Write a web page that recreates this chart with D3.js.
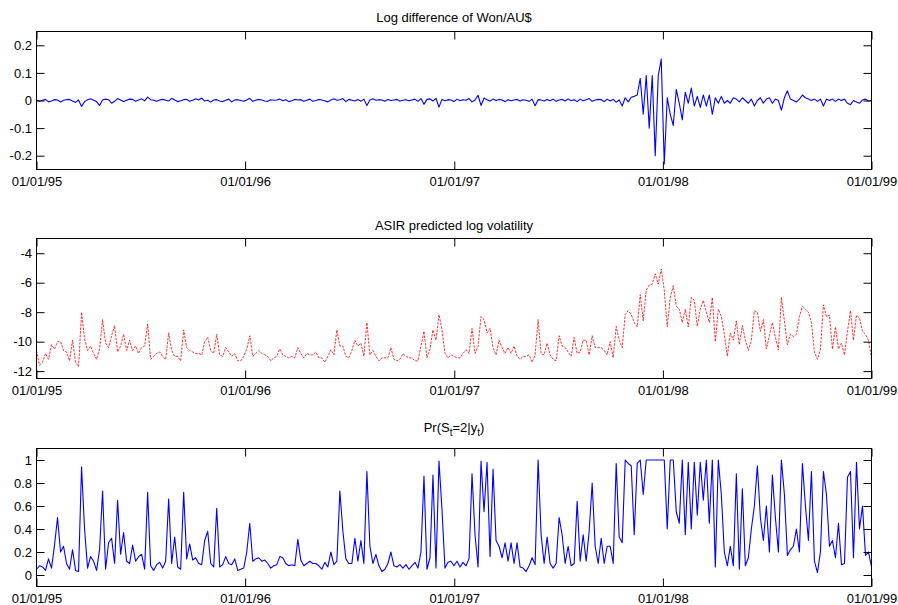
<!DOCTYPE html>
<html>
<head>
<meta charset="utf-8">
<script src="https://cdn.jsdelivr.net/npm/d3@7"></script>
<style>
    body { margin: 0; background: #fff; }
    svg { display: block; font-family: "Liberation Sans", Arial, Helvetica, sans-serif; }
</style>
</head>
<body>
<div id="chart-area"></div>
<script>
// Data: values, evenly spaced from 01/01/95 to 01/01/99

// Log difference of Won/AU$
let diffData = [
    0.002, -0.003, 0.001, 0.004, -0.005, -0.002, 0.003, 0.002, -0.006, 0.001,
    0.003, 0.004, -0.002, -0.007, 0.002, -0.022, -0.004, 0.003, 0.006, 0.001,
    -0.004, -0.018, 0.002, 0.005, 0.003, -0.01, -0.003, 0.007, 0.002, -0.004,
    0.001, 0.005, 0.004, -0.003, 0.002, 0.006, -0.001, 0.012, 0.003, 0.001,
    -0.003, 0.002, 0.004, 0.001, -0.002, 0.008, 0.002, -0.004, -0.001, 0.003,
    0.004, -0.003, 0.001, 0.006, 0.002, 0.009, -0.002, 0.001, -0.006, 0.002,
    0.003, -0.002, -0.004, 0.001, 0.005, -0.005, 0.002, 0.003, 0.0, -0.003,
    0.002, 0.008, -0.003, 0.001, 0.004, 0.002, -0.002, -0.003, 0.003, 0.001,
    0.002, 0.005, -0.001, 0.003, -0.004, -0.001, 0.004, 0.002, 0.003, -0.003,
    0.001, 0.005, -0.003, 0.0, 0.004, 0.002, -0.001, -0.005, 0.002, 0.006,
    0.001, 0.003, 0.007, -0.004, 0.004, 0.001, -0.002, 0.004, -0.003, 0.005,
    -0.018, 0.002, 0.006, 0.001, 0.003, 0.002, -0.003, 0.004, 0.0, 0.002,
    0.004, -0.002, 0.001, 0.003, -0.001, 0.002, 0.005, -0.003, 0.007, -0.014,
    0.004, 0.006, -0.002, 0.008, -0.024, 0.004, -0.001, 0.003, 0.002, -0.004,
    0.005, -0.001, 0.003, 0.001, 0.007, -0.005, 0.002, 0.019, -0.018, 0.009,
    0.003, -0.002, 0.005, 0.0, 0.004, 0.002, -0.004, 0.003, -0.001, 0.002,
    0.004, -0.002, 0.003, 0.001, -0.003, 0.005, -0.019, 0.003, 0.002, -0.002,
    0.004, -0.001, 0.005, -0.003, 0.002, 0.004, -0.002, 0.006, -0.001, 0.003,
    -0.004, 0.005, -0.001, 0.003, 0.007, -0.003, 0.002, 0.004,
    0.003, -0.004, 0.005, -0.002, 0.004, -0.006, 0.002, -0.02, 0.01, -0.005,
    0.012, 0.015, 0.02, 0.08, -0.05, 0.09, -0.1, 0.09, -0.2, 0.09,
    0.15, -0.23, 0.01, -0.05, -0.09, 0.04, -0.01, -0.07, 0.03, -0.01,
    0.045, -0.02, 0.015, -0.025, 0.02, -0.02, 0.02, -0.05, 0.01, -0.01,
    0.015, -0.01, 0.0, -0.01, 0.01, 0.005, -0.005, 0.01, 0.0, -0.01,
    0.005, -0.02, 0.0, 0.01, -0.01, 0.005, 0.01, -0.01, 0.005, 0.0,
    -0.035, 0.01, 0.035, 0.005, 0.0, -0.005, 0.005, 0.02, 0.01, 0.005,
    0.0, 0.005, -0.003, 0.005, -0.02, 0.005, 0.0, 0.005, -0.003, 0.005,
    0.0, 0.005, -0.01, -0.015, 0.0, -0.005, -0.01, 0.002, 0.005, -0.002, 0.0
];

// ASIR predicted log volatility
let volData = [
    -10.6, -11.6, -11.4, -10.8, -11.2, -10.2, -10.5, -10.0, -10.0, -10.6,
    -10.7, -11.3, -9.9, -11.4, -11.7, -8.0, -9.8, -10.6, -10.3, -10.8,
    -11.2, -10.5, -8.5, -10.1, -10.4, -9.6, -8.9, -10.7, -10.3, -9.5,
    -10.6, -9.9, -10.6, -10.3, -10.8, -10.4, -10.3, -8.8, -11.2, -11.0,
    -10.8, -10.7, -11.0, -11.2, -9.4, -10.6, -11.0, -11.0, -11.3, -9.2,
    -10.4, -10.6, -10.7, -10.8, -10.8, -10.9, -10.0, -9.7, -10.6, -10.8,
    -9.5, -10.9, -11.0, -10.4, -10.7, -11.0, -10.8, -11.3, -11.3, -11.0,
    -10.5, -9.6, -11.0, -10.8, -10.6, -10.8, -10.9, -11.0, -11.3, -11.1,
    -11.0, -10.5, -10.9, -11.0, -11.1, -11.0, -11.1, -10.4, -10.8,
    -11.1, -10.8, -10.9, -10.9, -10.7, -11.1, -11.1, -11.4, -11.0, -10.55, -10.9,
    -9.2, -10.3, -10.3, -11.0, -11.1, -10.6, -9.9, -10.3, -10.1, -11.0,
    -8.7, -10.9, -10.6, -11.0, -11.3, -11.1, -11.1, -11.1, -10.4, -11.2,
    -11.3, -11.2, -10.8, -11.0, -11.1, -11.1, -11.3, -11.3, -10.3, -9.3,
    -11.1, -10.5, -9.2, -9.9, -8.16, -9.2, -10.8, -11.1, -10.9, -11.0,
    -11.1, -11.1, -10.8, -10.55, -10.8, -9.1, -10.8, -10.3, -8.3, -8.5,
    -9.4, -9.1, -10.4, -10.9, -9.9, -10.4, -10.8, -10.4, -10.8, -10.3,
    -11.0, -11.2, -11.0, -11.0, -10.9, -11.4, -10.9, -8.5, -10.8, -10.9,
    -10.1, -10.9, -11.2, -11.3, -9.6, -10.3, -10.4, -10.7, -11.0, -9.7,
    -10.8, -10.7, -9.9, -9.9, -10.9, -9.6, -10.4, -10.4, -10.4, -10.6, -10.9,
    -10.0, -11.1, -8.96, -9.9, -10.4, -8.16, -7.9, -8.16, -8.7,
    -9.0, -6.8, -8.6, -6.5, -6.15, -6.1, -5.4, -6.1, -5.07, -6.5,
    -9.0, -7.0, -6.2, -7.6, -7.8, -8.7, -7.8, -9.0, -7.0, -7.2,
    -8.96, -7.8, -7.2, -8.0, -8.7, -7.0, -10.0, -7.8, -8.27, -9.5,
    -11.0, -9.4, -9.9, -8.6, -10.2, -8.9, -9.87, -10.6, -9.9, -7.9,
    -8.0, -9.3, -8.5, -10.5, -9.6, -8.7, -9.7, -10.56, -7.0, -8.6,
    -10.2, -9.5, -9.65, -9.5, -8.3, -7.6, -7.8, -8.0, -8.7, -10.7,
    -11.2, -10.5, -7.5, -8.3, -8.2, -10.5, -9.0, -10.5, -10.1, -10.9,
    -9.3, -7.9, -9.9, -8.2, -8.4, -9.3, -9.5, -9.9, -11.1
];

// Pr(S_t = 2 | y_t)
let probData = [
    0.05, 0.08, 0.07, 0.04, 0.14, 0.06, 0.26, 0.5, 0.2, 0.25,
    0.1, 0.05, 0.22, 0.04, 0.03, 0.94, 0.4, 0.06, 0.16, 0.12,
    0.04, 0.22, 0.73, 0.05, 0.28, 0.32, 0.1, 0.65, 0.18, 0.37,
    0.12, 0.1, 0.26, 0.12, 0.16, 0.18, 0.05, 0.72, 0.08, 0.04,
    0.09, 0.11, 0.06, 0.12, 0.66, 0.1, 0.33, 0.07, 0.05, 0.72,
    0.14, 0.27, 0.13, 0.15, 0.1, 0.09, 0.3, 0.38, 0.1, 0.07,
    0.58, 0.07, 0.09, 0.16, 0.1, 0.09, 0.14, 0.04, 0.05, 0.06,
    0.2, 0.45, 0.12, 0.14, 0.15, 0.12, 0.13, 0.1, 0.06, 0.08,
    0.09, 0.16, 0.15, 0.1, 0.08, 0.09, 0.08, 0.31, 0.13,
    0.08, 0.1, 0.12, 0.1, 0.1, 0.08, 0.05, 0.11, 0.07, 0.2, 0.09,
    0.12, 0.73, 0.38, 0.14, 0.1, 0.1, 0.32, 0.12, 0.3, 0.1,
    0.9, 0.25, 0.1, 0.18, 0.08, 0.03, 0.05, 0.1, 0.2, 0.08,
    0.07, 0.09, 0.06, 0.09, 0.05, 0.08, 0.11, 0.06, 0.2, 0.86,
    0.05, 0.15, 0.87, 0.06, 0.99, 0.57, 0.06, 0.11, 0.12, 0.08,
    0.12, 0.07, 0.11, 0.08, 0.14, 0.88, 0.35, 0.07, 0.99, 0.55,
    0.98, 0.16, 0.92, 0.3, 0.25, 0.15, 0.28, 0.12, 0.28, 0.1,
    0.28, 0.07, 0.06, 0.03, 0.08, 0.15, 0.09, 1.0, 0.35, 0.1,
    0.33, 0.1, 0.06, 0.1, 0.5, 0.35, 0.1, 0.25, 0.08, 0.1,
    0.64, 0.12, 0.35, 0.12, 0.38, 0.8, 0.25, 0.1, 0.32, 0.1, 0.25,
    0.25, 0.1, 0.97, 0.33, 0.28, 1.0, 0.97, 0.95, 0.35,
    0.97, 1.0, 0.7, 1.0, 1.0, 1.0, 1.0, 1.0, 1.0, 1.0,
    0.4, 1.0, 1.0, 0.55, 0.45, 1.0, 0.35, 0.98, 0.4, 0.98,
    0.52, 0.98, 0.65, 1.0, 0.45, 1.0, 0.07, 1.0, 0.7, 0.2,
    0.08, 0.25, 0.08, 0.88, 0.05, 0.75, 0.08, 0.15, 0.4, 0.6,
    0.95, 0.5, 0.3, 0.6, 0.2, 0.87, 0.5, 0.2, 1.0, 0.7,
    0.17, 0.22, 0.25, 0.4, 0.2, 0.97, 0.6, 0.3, 0.9, 0.12,
    0.02, 0.2, 0.9, 0.7, 0.25, 0.3, 0.15, 0.45, 0.09, 0.1,
    0.85, 0.9, 0.15, 0.98, 0.4, 0.6, 0.17, 0.2, 0.07
];

// tick values
let xTicks = [new Date(1995, 0, 1), new Date(1996, 0, 1), new Date(1997, 0, 1), new Date(1998, 0, 1), new Date(1999, 0, 1)];
let yTicks1 = [-0.2, -0.1, 0, 0.1, 0.2];
let yTicks2 = [-12, -10, -8, -6, -4];
let yTicks3 = [0, 0.2, 0.4, 0.6, 0.8, 1];

let startDate = new Date(1995, 0, 1),
    endDate = new Date(1999, 0, 1);

// layout
let left = 36.5, right = 871.5;
let panelTops = [31.5, 238.5, 448.5];
let panelBottoms = [169.5, 378.5, 586.5];
let titleY = [21.5, 229.5, 432];

let panels = [
    {values: diffData, domain: [-0.25, 0.25], ticks: yTicks1, color: "#0000ff", width: 1.1, dash: null},
    {values: volData, domain: [-12.5, -3], ticks: yTicks2, color: "#ff0000", width: 0.8, dash: "2.5,1.2"},
    {values: probData, domain: [-0.1, 1.1], ticks: yTicks3, color: "#0000ff", width: 1.1, dash: null}
];

let svg = d3.select("#chart-area")
    .append("svg")
    .attr("width", 898)
    .attr("height", 605);

let x = d3.scaleTime()
    .domain([startDate, endDate])
    .range([left, right]);

function dateAt(i, n) {
    return new Date(startDate.getTime() + i * (endDate - startDate) / (n - 1));
}

let axisFont = "Liberation Sans, Arial, Helvetica, sans-serif";

panels.forEach(function(p, k) {
    let top = panelTops[k], bottom = panelBottoms[k];
    let g = svg.append("g");

    let y = d3.scaleLinear()
        .domain(p.domain)
        .range([bottom, top]);

    // clip the series to the axes box
    svg.append("clipPath")
        .attr("id", "clip" + k)
        .append("rect")
        .attr("x", left)
        .attr("y", top)
        .attr("width", right - left)
        .attr("height", bottom - top);

    let n = p.values.length;
    let line = d3.line()
        .x(function(d, i) { return x(dateAt(i, n)); })
        .y(function(d) { return y(d); });

    g.append("path")
        .datum(p.values)
        .attr("clip-path", "url(#clip" + k + ")")
        .attr("fill", "none")
        .attr("stroke", p.color)
        .attr("stroke-width", p.width)
        .attr("stroke-dasharray", p.dash)
        .attr("stroke-linejoin", "round")
        .attr("d", line);

    // axes, ticks point inward on all four sides
    let xAxis = d3.axisBottom(x)
        .tickValues(xTicks)
        .tickFormat(d3.timeFormat("%d/%m/%y"))
        .tickSizeInner(-8)
        .tickSizeOuter(0)
        .tickPadding(7.5);

    let xTop = d3.axisTop(x)
        .tickValues(xTicks)
        .tickFormat("")
        .tickSizeInner(-8)
        .tickSizeOuter(0);

    let yAxis = d3.axisLeft(y)
        .tickValues(p.ticks)
        .tickFormat(function(d) { return String(d); })
        .tickSizeInner(-8)
        .tickSizeOuter(0)
        .tickPadding(4.5);

    let yRight = d3.axisRight(y)
        .tickValues(p.ticks)
        .tickFormat("")
        .tickSizeInner(-8)
        .tickSizeOuter(0);

    g.append("g")
        .attr("transform", "translate(0," + bottom + ")")
        .call(xAxis);
    g.append("g")
        .attr("transform", "translate(0," + top + ")")
        .call(xTop);
    g.append("g")
        .attr("transform", "translate(" + left + ",0)")
        .call(yAxis);
    g.append("g")
        .attr("transform", "translate(" + right + ",0)")
        .call(yRight);

    g.selectAll(".domain").remove();
    g.selectAll("g")
        .attr("font-family", axisFont)
        .attr("font-size", 13);
    g.selectAll(".tick line")
        .attr("stroke", "#000")
        .attr("stroke-width", 1);

    // box
    g.append("rect")
        .attr("x", left)
        .attr("y", top)
        .attr("width", right - left)
        .attr("height", bottom - top)
        .attr("fill", "none")
        .attr("stroke", "#000")
        .attr("stroke-width", 1);
});

// titles
svg.append("text")
    .attr("x", (left + right) / 2)
    .attr("y", titleY[0])
    .attr("text-anchor", "middle")
    .attr("font-size", 13)
    .text("Log difference of Won/AU$");

svg.append("text")
    .attr("x", (left + right) / 2)
    .attr("y", titleY[1])
    .attr("text-anchor", "middle")
    .attr("font-size", 13)
    .text("ASIR predicted log volatility");

let t3 = svg.append("text")
    .attr("x", (left + right) / 2)
    .attr("y", titleY[2])
    .attr("text-anchor", "middle")
    .attr("font-size", 13);
t3.append("tspan").text("Pr(S");
t3.append("tspan").attr("dy", 4).attr("font-size", 10).text("t");
t3.append("tspan").attr("dy", -4).text("=2|y");
t3.append("tspan").attr("dy", 4).attr("font-size", 10).text("t");
t3.append("tspan").attr("dy", -4).text(")");
</script>
</body>
</html>
